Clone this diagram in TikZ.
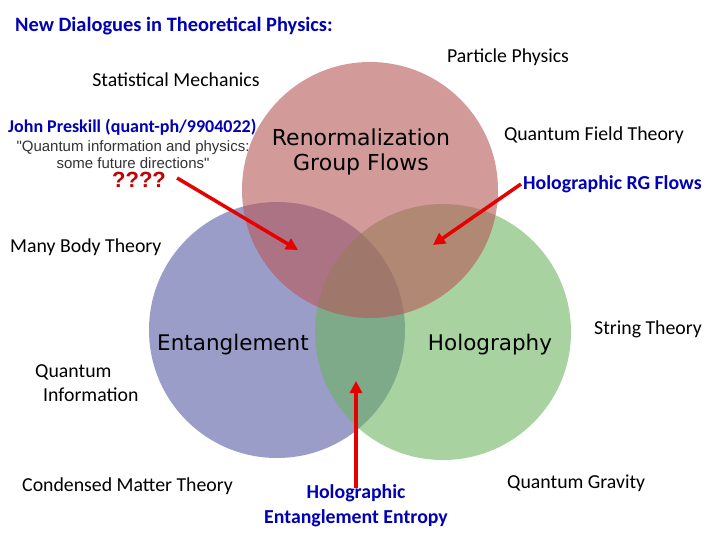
\documentclass[tikz,border=0pt]{standalone}
\usepackage{fontspec}
\setmainfont{Carlito}
\newfontfamily\comicf{DejaVu Sans}
\newfontfamily\arialf{Liberation Sans}
\usetikzlibrary{arrows.meta}
\definecolor{cred}{RGB}{183,87,87}
\definecolor{cblue}{RGB}{87,93,163}
\definecolor{cgreen}{RGB}{110,180,97}
\definecolor{dblue}{RGB}{0,0,180}
\definecolor{arrred}{RGB}{230,0,0}
\tikzset{
  lbl/.style={inner sep=0pt, font=\fontsize{19.8}{24}\selectfont, text=black},
  blbl/.style={inner sep=0pt, font=\fontsize{19.8}{25}\selectfont\bfseries, text=dblue, align=center},
  big/.style={inner sep=0pt, font=\comicf\fontsize{21.5}{25}\selectfont, text=black, align=center},
  venn/.style={fill opacity=0.6, draw=none},
  redarrow/.style={draw=arrred, line width=3.5pt, -{Triangle[length=12pt,width=12pt]}}
}
\begin{document}
\begin{tikzpicture}[x=1pt,y=-1pt]
\useasboundingbox (0,0) rectangle (720,540);
\fill[white] (0,0) rectangle (720,540);
% circles
\fill[venn, cblue] (277,330) circle (128);
\fill[venn, cgreen] (443,332) circle (128);
\fill[venn, cred] (370,190) circle (128);
% texts
\node[blbl, font=\fontsize{20.4}{24}\selectfont\bfseries, anchor=west] (title) at (15,26) {New Dialogues in Theoretical Physics:};
\node[lbl] (pp) at (508,57) {Particle Physics};
\node[lbl] (sm) at (176,80) {Statistical Mechanics};
\node[blbl, font=\fontsize{18}{22}\selectfont\bfseries, anchor=west] (jp) at (8,127) {John Preskill (quant-ph/9904022)};
\node[inner sep=0pt, align=center, font=\arialf\fontsize{15}{17}\selectfont, text=black!80] (qi) at (133,155) {"Quantum information and physics:\\some future directions"};
\node[inner sep=0pt, font=\arialf\fontsize{22}{26}\selectfont\bfseries, text=arrred!85!black] (qq) at (139,180) {????};
\node[big, font=\comicf\fontsize{22}{25}\selectfont] (rg) at (361,152) {Renormalization\\Group Flows};
\node[lbl] (qft) at (594,135) {Quantum Field Theory};
\node[blbl, anchor=west] (hrg) at (523,184) {Holographic RG Flows};
\node[lbl, anchor=west] (mbt) at (10,247) {Many Body Theory};
\node[big] (ent) at (233,345) {Entanglement};
\node[big] (holo) at (490,345) {Holography};
\node[lbl, anchor=west] (st) at (594,329) {String Theory};
\node[lbl, anchor=west, align=left] (qinf) at (35,383) {Quantum\\\hspace*{8pt}Information};
\node[lbl, anchor=west] (cmt) at (22,486) {Condensed Matter Theory};
\node[blbl] (hee) at (356,506) {Holographic\\Entanglement Entropy};
\node[lbl, anchor=west] (qg) at (507,483) {Quantum Gravity};
% arrows
\coordinate (a1) at (298,250);
\coordinate (a2) at (433,245);
\coordinate (a3) at (356,381);
\draw[redarrow] ([xshift=11pt,yshift=2pt]qq.east) -- (a1);
\draw[redarrow] ([xshift=-2pt]hrg.west) -- (a2);
\draw[redarrow] ([yshift=-3pt]hee.north) -- (a3);
\end{tikzpicture}
\end{document}
